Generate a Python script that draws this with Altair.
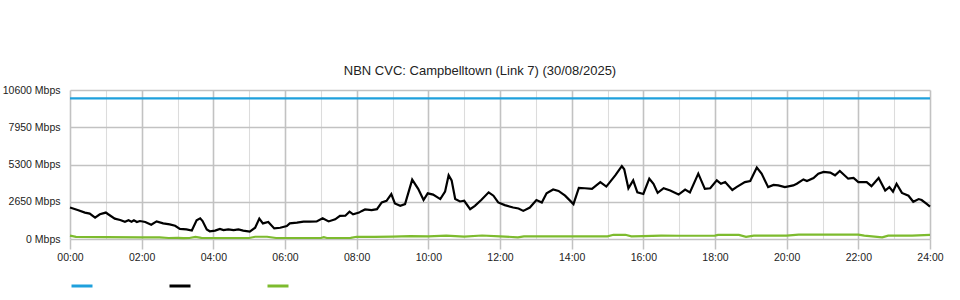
import altair as alt
import pandas as pd

# ---- data ----
series_names = ["Capacity", "Download", "Upload"]
series_colors = ["#1fa0dc", "#000000", "#7dbb2e"]

capacity_times = ["00:00", "24:00"]
capacity_values = [10000, 10000]

download_times = [
    "00:00", "00:14", "00:25", "00:33", "00:42", "00:50", "01:00", "01:04", "01:15", "01:24",
    "01:32", "01:38", "01:43", "01:47", "01:52", "01:57", "02:06", "02:16", "02:25", "02:36",
    "02:47", "02:56", "03:04", "03:15", "03:24", "03:32", "03:38", "03:42", "03:49", "03:54",
    "04:03", "04:11", "04:17", "04:25", "04:34", "04:42", "04:50", "05:01", "05:10", "05:17",
    "05:23", "05:32", "05:42", "05:52", "06:03", "06:08", "06:20", "06:31", "06:42", "06:53",
    "07:03", "07:13", "07:24", "07:32", "07:41", "07:48", "07:54", "08:04", "08:08", "08:14",
    "08:25", "08:34", "08:42", "08:50", "08:58", "09:04", "09:13", "09:21", "09:33", "09:43",
    "09:52", "09:59", "10:08", "10:20", "10:28", "10:34", "10:39", "10:45", "10:53", "11:00",
    "11:10", "11:18", "11:29", "11:41", "11:49", "11:57", "12:08", "12:22", "12:31", "12:39",
    "12:50", "13:01", "13:10", "13:18", "13:29", "13:38", "13:49", "14:03", "14:12", "14:22",
    "14:34", "14:48", "14:58", "15:04", "15:13", "15:24", "15:28", "15:35", "15:43", "15:50",
    "16:00", "16:10", "16:17", "16:24", "16:34", "16:45", "16:59", "17:10", "17:18", "17:32",
    "17:43", "17:52", "18:03", "18:10", "18:17", "18:29", "18:36", "18:50", "18:59", "19:10",
    "19:18", "19:29", "19:38", "19:46", "19:57", "20:11", "20:17", "20:28", "20:34", "20:45",
    "20:53", "21:02", "21:13", "21:21", "21:29", "21:43", "21:52", "22:00", "22:14", "22:22",
    "22:34", "22:45", "22:52", "22:58", "23:04", "23:13", "23:24", "23:32", "23:41", "23:46",
    "23:55", "24:00",
]
download_values = [
    2240, 2050, 1880, 1810, 1520, 1760, 1880, 1760, 1450, 1350,
    1230, 1330, 1230, 1330, 1210, 1280, 1210, 1010, 1250, 1110,
    1040, 940, 720, 680, 600, 1330, 1470, 1280, 680, 550,
    600, 720, 630, 680, 630, 680, 600, 530, 800, 1450,
    1110, 1210, 750, 800, 920, 1110, 1160, 1230, 1230, 1250,
    1470, 1250, 1400, 1640, 1660, 1950, 1760, 1880, 1980, 2100,
    2050, 2120, 2600, 2720, 3200, 2530, 2360, 2480, 4220, 3570,
    2770, 3250, 3160, 2840, 3370, 4530, 4170, 2840, 2670, 2720,
    2120, 2360, 2790, 3320, 3080, 2600, 2410, 2240, 2170, 2000,
    2240, 2770, 2600, 3250, 3520, 3420, 3080, 2480, 3640, 3610,
    3570, 4050, 3730, 4050, 4530, 5180, 4960, 3610, 4170, 3320,
    3200, 4290, 3930, 3280, 3610, 3450, 3160, 3520, 3320, 4650,
    3570, 3610, 4170, 3930, 4050, 3490, 3690, 4050, 4120, 5080,
    4650, 3690, 3850, 3810, 3690, 3810, 3930, 4240, 4120, 4340,
    4650, 4770, 4720, 4530, 4840, 4290, 4340, 4050, 4050, 3760,
    4340, 3450, 3690, 3370, 3930, 3280, 3080, 2650, 2840, 2770,
    2480, 2310,
]

upload_times = [
    "00:00", "00:10", "01:00", "02:00", "02:30", "02:45", "03:00", "03:10", "03:20", "03:30",
    "03:40", "04:00", "05:00", "05:10", "05:30", "05:45", "07:00", "07:05", "07:10", "07:50",
    "08:00", "08:30", "09:00", "09:30", "10:00", "10:30", "11:00", "11:30", "12:00", "12:30",
    "12:40", "14:00", "15:00", "15:10", "15:30", "15:40", "16:00", "16:30", "17:00", "18:00",
    "18:05", "18:40", "18:52", "19:05", "20:00", "20:20", "22:00", "22:10", "22:40", "22:50",
    "23:30", "24:00",
]
upload_values = [
    240, 150, 130, 120, 110, 70, 80, 60, 70, 150,
    80, 70, 70, 160, 160, 70, 70, 130, 70, 80,
    160, 150, 170, 200, 190, 240, 170, 250, 190, 120,
    190, 190, 190, 300, 300, 190, 200, 240, 230, 240,
    290, 290, 150, 240, 240, 310, 310, 240, 120, 240,
    240, 290,
]

y_ticks = [0, 2650, 5300, 7950, 10600]
chart_title = "NBN CVC: Campbelltown (Link 7) (30/08/2025)"


def to_hours(t):
    h, m = t.split(":")
    return int(h) + int(m) / 60.0


rows = []
for name, ts, vs in [
    (series_names[0], capacity_times, capacity_values),
    (series_names[1], download_times, download_values),
    (series_names[2], upload_times, upload_values),
]:
    for i, (t, v) in enumerate(zip(ts, vs)):
        rows.append({"series": name, "hour": to_hours(t), "mbps": v, "order": i})
df = pd.DataFrame(rows)

even_test = "datum.value % 2 == 0"

x = alt.X(
    "hour:Q",
    scale=alt.Scale(domain=[0, 24], nice=False, zero=False),
    axis=alt.Axis(
        values=list(range(25)),
        title=None,
        domain=False,
        labelExpr="datum.value % 2 == 0 ? ((datum.value < 10 ? '0' : '') + datum.value + ':00') : ''",
        labelOverlap=False,
        labelFlush=False,
        labelFontSize=10.5,
        labelColor="#222222",
        labelPadding=3,
        gridColor={"condition": {"test": even_test, "value": "#c2c2c2"}, "value": "#dcdcdc"},
        gridWidth={"condition": {"test": even_test, "value": 1.6}, "value": 1.1},
        tickColor={"condition": {"test": even_test, "value": "#c2c2c2"}, "value": "transparent"},
        tickSize=10,
        tickWidth=1.5,
    ),
)

y = alt.Y(
    "mbps:Q",
    scale=alt.Scale(domain=[0, 10600], nice=False, zero=True),
    axis=alt.Axis(
        values=y_ticks,
        title=None,
        domain=False,
        ticks=False,
        labelExpr="datum.value + ' Mbps'",
        labelFontSize=10.5,
        labelColor="#222222",
        labelPadding=10,
        gridColor="#c2c2c2",
        gridWidth=1.6,
    ),
)

color = alt.Color(
    "series:N",
    scale=alt.Scale(domain=series_names, range=series_colors),
    legend=alt.Legend(
        title=None,
        orient="none",
        legendX=0,
        legendY=184,
        direction="horizontal",
        symbolType="stroke",
        symbolSize=441,
        symbolStrokeWidth=3,
        labelExpr="''",
        labelOffset=0,
        columnPadding=64,
        padding=0,
    ),
)

chart = (
    alt.Chart(df)
    .mark_line(strokeWidth=2.2, interpolate="linear")
    .encode(x=x, y=y, color=color, order="order:Q")
    .properties(
        width=860,
        height=149,
        title=alt.TitleParams(
            chart_title,
            fontSize=13,
            fontWeight="normal",
            color="#222222",
            anchor="middle",
            dx=-20,
            offset=7,
        ),
        autosize=alt.AutoSizeParams(type="none"),
        padding={"left": 70, "top": 90, "right": 30, "bottom": 61},
        background="white",
    )
    .configure(font="Liberation Sans")
    .configure_view(strokeWidth=0)
)

chart.save("out.html", embed_options={"renderer": "svg", "actions": False})
